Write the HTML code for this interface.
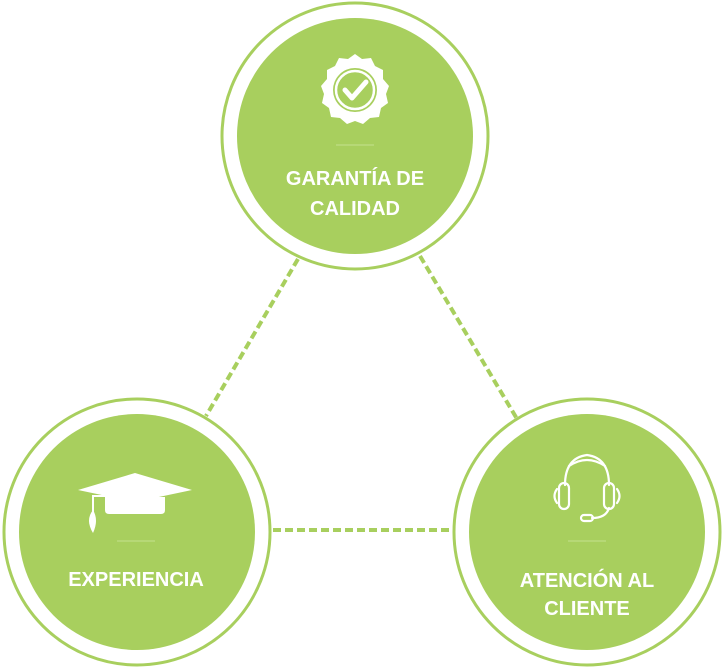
<!DOCTYPE html>
<html><head><meta charset="utf-8"><style>
html,body{margin:0;padding:0;background:#fff;}
svg{display:block;}
text{font-family:"Liberation Sans",sans-serif;font-weight:bold;fill:#fff;font-size:20px;}
</style></head><body>
<svg width="723" height="667" viewBox="0 0 723 667">
<g stroke="#a8cf5e" stroke-width="4" stroke-dasharray="8 4" fill="none">
<line x1="298" y1="259" x2="206" y2="416"/>
<line x1="420" y1="256" x2="526" y2="434"/>
<line x1="273" y1="530" x2="452" y2="530"/>
</g>
<g fill="#fff" stroke="#a8cf5e" stroke-width="3">
<circle cx="355" cy="136" r="133"/>
<circle cx="137" cy="532" r="133"/>
<circle cx="587" cy="532" r="133"/>
</g>
<g fill="#a8cf5e">
<circle cx="355" cy="136" r="118"/>
<circle cx="137" cy="532" r="118"/>
<circle cx="587" cy="532" r="118"/>
</g>
<g stroke="#c4e08f" stroke-width="1">
<line x1="336" y1="145" x2="374" y2="145"/>
<line x1="117" y1="541" x2="155" y2="541"/>
<line x1="568" y1="541" x2="606" y2="541"/>
</g>
<g transform="translate(355,90)">
<path fill="#fff" d="M0,-36 L7,-31 L16,-32 L20,-24 L28,-20 L28,-11 L34,-4 L31,4 L33,13 L26,18 L24,27 L15,28 L8,34 L0,31 L-8,34 L-15,28 L-24,27 L-26,18 L-33,13 L-31,4 L-34,-4 L-28,-11 L-28,-20 L-20,-24 L-16,-32 L-7,-31 Z"/>
<circle r="22" fill="#a8cf5e"/>
<circle r="19" fill="none" stroke="#fff" stroke-width="2.5"/>
<path d="M-10,0 L-3,8 L11,-8" fill="none" stroke="#fff" stroke-width="5" stroke-linecap="round" stroke-linejoin="round"/>
</g>
<g fill="#fff">
<path d="M78,490 L135,473 L192,490 L135,502 Z"/>
<path d="M105,497 L165,497 L165,510 Q165,514 161,514 L109,514 Q105,514 105,510 Z"/>
<rect x="92" y="495" width="36" height="2"/>
<rect x="92" y="495" width="2" height="20"/>
<path d="M93,510 Q99,520 93,533 Q85,520 93,510 Z"/>
</g>
<g fill="none" stroke="#fff" stroke-width="2.2" stroke-linecap="round">
<path d="M565,485 Q565,458 587,455 Q609,458 609,485"/>
<path d="M569,466 Q587,454 605,466"/>
<rect x="559" y="483" width="10" height="26" rx="5"/>
<rect x="604" y="483" width="10" height="26" rx="5"/>
<path d="M557,489 Q552,496 557,503"/>
<path d="M617,489 Q622,496 617,503"/>
<path d="M609,508 Q606,518 592,518"/>
<rect x="581" y="515" width="12" height="6" rx="3"/>
</g>
<text x="355" y="185" text-anchor="middle">GARANTÍA DE</text>
<text x="355" y="215" text-anchor="middle">CALIDAD</text>
<text x="136" y="586" text-anchor="middle">EXPERIENCIA</text>
<text x="587" y="587" text-anchor="middle">ATENCIÓN AL</text>
<text x="587" y="615" text-anchor="middle">CLIENTE</text>
</svg>
</body></html>
